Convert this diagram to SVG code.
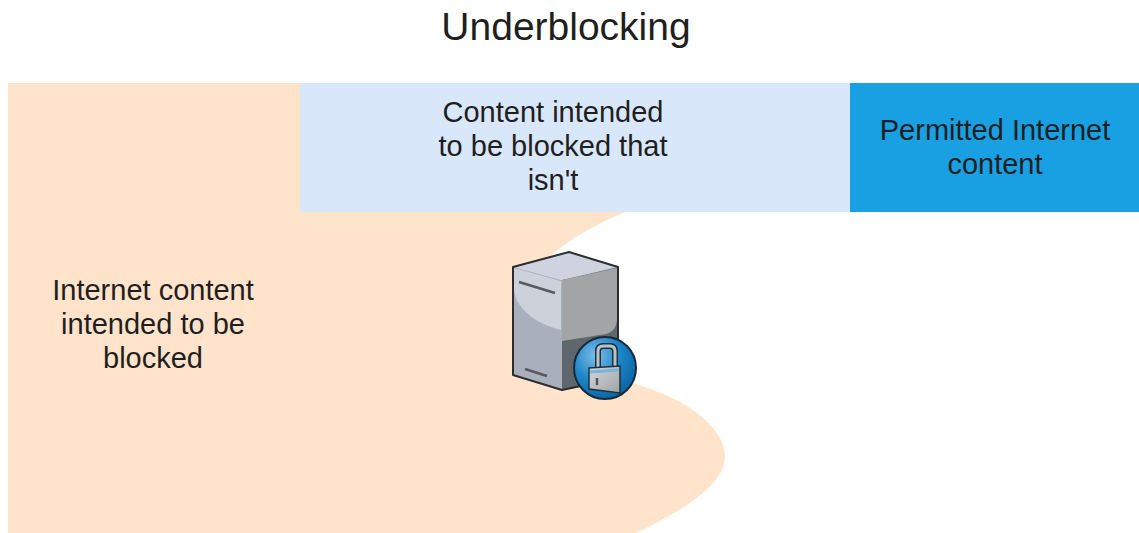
<svg xmlns="http://www.w3.org/2000/svg" width="1139" height="533" viewBox="0 0 1139 533">
<defs>
<style>
text{font-family:"Liberation Sans",Arial,sans-serif;font-size:29px;fill:#1f1f1f;text-anchor:middle}
.o{fill:none;stroke:#2b2e30;stroke-width:2;stroke-linejoin:round}
</style>
<radialGradient id="g" cx="0.35" cy="0.3" r="0.8"><stop offset="0" stop-color="#7fbde6"/><stop offset="0.5" stop-color="#1a86c8"/><stop offset="1" stop-color="#0a5f9c"/></radialGradient>
<linearGradient id="l" x1="0" y1="0" x2="1" y2="1"><stop offset="0" stop-color="#d5d8da"/><stop offset="1" stop-color="#9ea3a6"/></linearGradient>
</defs>
<rect width="1139" height="533" fill="#fff"/>
<text id="title" x="566" y="40" style="font-size:39px">Underblocking</text>
<g id="blocked">
<path d="M8 83H300V212H625C597 224 575 236 555 252C520 285 520 340 560 360C590 374 640 380 680 402C712 420 725 440 725 457C725 480 695 505 636 533H8Z" fill="#ffe3cb"/>
<text x="153" y="300">Internet content</text><text x="153" y="334">intended to be</text><text x="153" y="368">blocked</text>
</g>
<g id="underblocked">
<rect x="300" y="83" width="550" height="129" fill="#d8e7fa"/>
<text x="553" y="122">Content intended</text><text x="553" y="156">to be blocked that</text><text x="553" y="190">isn't</text>
</g>
<g id="permitted">
<rect x="850" y="83" width="289" height="129" fill="#18a0e3"/>
<text x="995" y="140">Permitted Internet</text><text x="995" y="174">content</text>
</g>
<g id="server">
<path d="M513 267L569 252L618 267L562 280Z" fill="#cfd3df"/>
<path d="M513 267L562 280V390L513 375Z" fill="#a9afbb"/>
<path d="M514 268L561 281V330C540 325 517 312 514 290Z" fill="#cdd1da"/>
<path d="M562 280L618 267V380L562 390Z" fill="#5f666c"/>
<path d="M562 280L617 268V320Q616 334 600 335L562 341Z" fill="#a1a5a6"/>
<path class="o" d="M513 267L569 252L618 267V378L562 390L513 375Z"/>
<path d="M519 282L555 293M525 369L547 376" fill="none" stroke="#555b60" stroke-width="2.5"/>
<circle cx="605" cy="368" r="31" fill="url(#g)" stroke="#16293a" stroke-width="2"/>
<path d="M598 369V351Q598 346 603 346H610Q615 346 615 351V369" fill="none" stroke="#20303c" stroke-width="6"/>
<path d="M598 369V351Q598 346 603 346H610Q615 346 615 351V369" fill="none" stroke="#b8c4cc" stroke-width="3"/>
<path d="M589 368L620 366V393L589 389Z" fill="url(#l)" stroke="#20303c" stroke-width="1.5"/>
<path d="M590 372L619 370" stroke="#78b4dc" stroke-width="3"/>
<path d="M597 378V385" stroke="#555" stroke-width="2.5"/>
</g>
<g id="connectors"/>
</svg>
